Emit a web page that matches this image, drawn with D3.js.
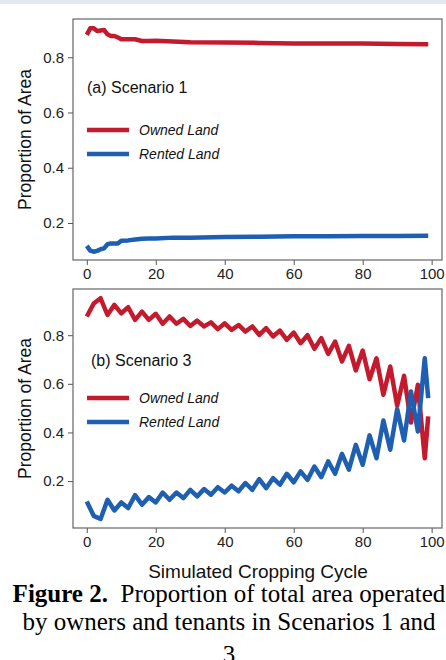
<!DOCTYPE html>
<html>
<head>
<meta charset="utf-8">
<script src="https://cdn.jsdelivr.net/npm/d3@7"></script>
<style>
  body { margin: 0; background: #fff; }
  svg { display: block; }
</style>
</head>
<body>
<svg id="chart" width="446" height="660"></svg>
<script>
// scenario 1 (cycles sampled where the line changes)
const cycles1 = [0, 1, 2, 3, 4, 5, 6, 7, 8, 9, 10, 12, 14, 16, 18, 20, 25, 30, 40, 50, 60, 70, 80, 90, 99];
const owned1 = [0.881, 0.905, 0.905, 0.895, 0.897, 0.899, 0.883, 0.877, 0.877, 0.872, 0.865, 0.865, 0.865, 0.859, 0.859, 0.86, 0.857, 0.854, 0.853, 0.852, 0.85, 0.85, 0.85, 0.848, 0.847];
const rented1 = [0.117, 0.1, 0.096, 0.099, 0.105, 0.108, 0.123, 0.126, 0.126, 0.126, 0.136, 0.137, 0.14, 0.143, 0.144, 0.144, 0.147, 0.147, 0.149, 0.15, 0.152, 0.152, 0.153, 0.153, 0.154];

// scenario 3 (every second cycle + last)
const cycles3 = [0, 2, 4, 6, 8, 10, 12, 14, 16, 18, 20, 22, 24, 26, 28, 30, 32, 34, 36, 38, 40, 42, 44, 46, 48, 50, 52, 54, 56, 58, 60, 62, 64, 66, 68, 70, 72, 74, 76, 78, 80, 82, 84, 86, 88, 90, 92, 94, 96, 98, 99];
const owned3 = [0.877, 0.93, 0.952, 0.883, 0.925, 0.89, 0.915, 0.863, 0.897, 0.863, 0.888, 0.847, 0.877, 0.847, 0.867, 0.838, 0.86, 0.836, 0.853, 0.825, 0.849, 0.822, 0.842, 0.815, 0.836, 0.801, 0.829, 0.795, 0.819, 0.781, 0.811, 0.767, 0.8, 0.744, 0.788, 0.723, 0.774, 0.692, 0.756, 0.655, 0.737, 0.619, 0.705, 0.555, 0.671, 0.51, 0.633, 0.441, 0.596, 0.294, 0.466];
const rented3 = [0.116, 0.057, 0.044, 0.123, 0.079, 0.112, 0.089, 0.142, 0.103, 0.134, 0.112, 0.153, 0.123, 0.153, 0.13, 0.164, 0.137, 0.167, 0.144, 0.175, 0.153, 0.181, 0.158, 0.192, 0.164, 0.208, 0.171, 0.212, 0.185, 0.23, 0.195, 0.24, 0.205, 0.26, 0.216, 0.281, 0.23, 0.312, 0.247, 0.349, 0.267, 0.388, 0.294, 0.449, 0.329, 0.496, 0.367, 0.568, 0.404, 0.705, 0.541];

const xTicks = [0, 20, 40, 60, 80, 100];
const yTicks = [0.2, 0.4, 0.6, 0.8];
const seriesNames = ['Owned Land', 'Rented Land'];
const seriesColors = ['#c41a2d', '#1f5fb2'];

const svg = d3.select('#chart');

svg.append('rect')
  .attr('x', 0).attr('y', 0)
  .attr('width', 446).attr('height', 4)
  .attr('fill', '#e3eaf4');

const x = d3.scaleLinear().domain([-4, 103]).range([73, 442]);

const panels = [
  { top: 19, bottom: 260, domain: [0.066, 0.9385], title: '(a) Scenario 1', titleX: 87, titleY: 93,
    legendY: [130, 154], cycles: cycles1, series: [owned1, rented1] },
  { top: 289, bottom: 528, domain: [0.007, 0.99], title: '(b) Scenario 3', titleX: 91, titleY: 366,
    legendY: [398, 422], cycles: cycles3, series: [owned3, rented3] },
];

const font = 'Liberation Sans, Arial, Helvetica, sans-serif';

panels.forEach(p => {
  const y = d3.scaleLinear().domain(p.domain).range([p.bottom, p.top]);
  const g = svg.append('g');

  const yAxis = g.append('g')
    .attr('transform', `translate(73,0)`)
    .call(d3.axisLeft(y).tickValues(yTicks).tickSize(5).tickPadding(4).tickFormat(d3.format('.1f')));
  const xAxis = g.append('g')
    .attr('transform', `translate(0,${p.bottom})`)
    .call(d3.axisBottom(x).tickValues(xTicks).tickSize(5).tickPadding(3).tickFormat(d3.format('d')));

  [yAxis, xAxis].forEach(a => {
    a.select('.domain').remove();
    a.selectAll('line').attr('stroke', '#555');
    a.selectAll('text').attr('font-family', font).attr('font-size', 15).attr('fill', '#222');
  });

  g.append('rect')
    .attr('x', 73).attr('y', p.top)
    .attr('width', 442 - 73).attr('height', p.bottom - p.top)
    .attr('fill', 'none')
    .attr('stroke', '#666')
    .attr('stroke-width', 1.2);

  const line = d3.line()
    .x((d, i) => x(p.cycles[i]))
    .y(d => y(d));

  p.series.forEach((s, i) => {
    g.append('path')
      .datum(s)
      .attr('d', line)
      .attr('fill', 'none')
      .attr('stroke', seriesColors[i])
      .attr('stroke-width', 4.5)
      .attr('stroke-linejoin', 'round')
      .attr('stroke-linecap', 'butt');
  });

  g.append('text')
    .attr('x', p.titleX).attr('y', p.titleY)
    .attr('font-family', font).attr('font-size', 16).attr('fill', '#111')
    .text(p.title);

  seriesNames.forEach((name, i) => {
    g.append('line')
      .attr('x1', 87).attr('x2', 129)
      .attr('y1', p.legendY[i]).attr('y2', p.legendY[i])
      .attr('stroke', seriesColors[i])
      .attr('stroke-width', 4.5);
    g.append('text')
      .attr('x', 139).attr('y', p.legendY[i] + 5)
      .attr('font-family', font).attr('font-size', 14).attr('font-style', 'italic').attr('fill', '#111')
      .text(name);
  });

  g.append('text')
    .attr('transform', `translate(31,${(p.top + p.bottom) / 2}) rotate(-90)`)
    .attr('text-anchor', 'middle')
    .attr('font-family', font).attr('font-size', 17.5).attr('fill', '#111')
    .text('Proportion of Area');
});

svg.append('text')
  .attr('x', 258).attr('y', 578)
  .attr('text-anchor', 'middle')
  .attr('font-family', font).attr('font-size', 19).attr('fill', '#111')
  .text('Simulated Cropping Cycle');

const caption = svg.append('g')
  .attr('font-family', 'Liberation Serif, Times New Roman, serif')
  .attr('font-size', 25)
  .attr('fill', '#000')
  .attr('text-anchor', 'middle');

const line1 = caption.append('text').attr('x', 229).attr('y', 602);
line1.append('tspan').attr('font-weight', 'bold').text('Figure 2.');
line1.append('tspan').text('\u00a0 Proportion of total area operated');
caption.append('text').attr('x', 229).attr('y', 630).text('by owners and tenants in Scenarios 1 and');
caption.append('text').attr('x', 229).attr('y', 663).text('3');
</script>
</body>
</html>
